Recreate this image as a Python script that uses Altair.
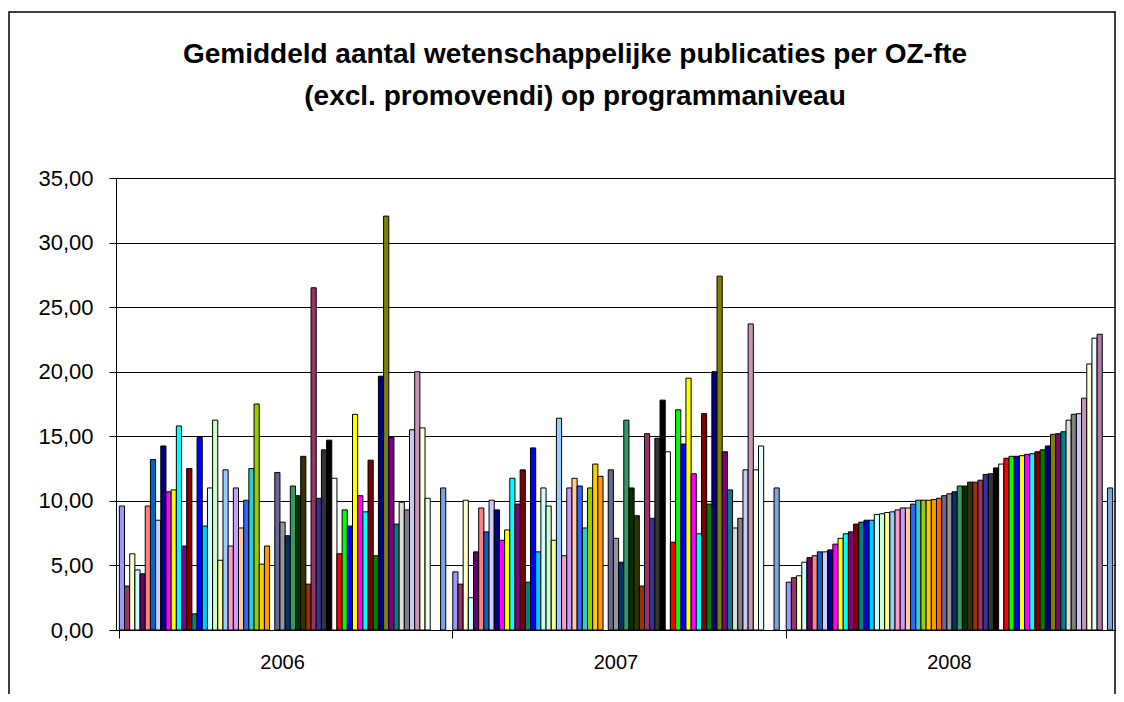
import altair as alt
import pandas as pd

years = ["2006", "2007", "2008"]

series = [f"Programma {i}" for i in range(1, 62)] + ["(leeg)", "Gemiddelde"]

colors = [
    "#9999FF", "#993366", "#FFFFCC", "#CCFFFF", "#660066", "#FF8080", "#0066CC", "#CCCCFF",
    "#000080", "#FF00FF", "#FFFF00", "#00FFFF", "#800080", "#800000", "#008080", "#0000FF",
    "#00CCFF", "#CCFFFF", "#CCFFCC", "#FFFF99", "#99CCFF", "#FF99CC", "#CC99FF", "#FFCC99",
    "#3366FF", "#33CCCC", "#99CC00", "#FFCC00", "#FF9900", "#FF6600", "#666699", "#969696",
    "#003366", "#339966", "#003300", "#333300", "#993300", "#993366", "#333399", "#333333",
    "#000000", "#FFFFFF", "#FF0000", "#00FF00", "#0000FF", "#FFFF00", "#FF00FF", "#00FFFF",
    "#800000", "#008000", "#000080", "#808000", "#800080", "#008080", "#DDDDDD", "#808080",
    "#C8C8F8", "#C896B4", "#FFFFE0", "#E6FFF8", "#B07CB0", "#FFFFFF", "#7AA6DF",
]

v2006 = [
    9.6, 3.4, 5.9, 4.65, 4.35, 9.6, 13.2, 8.5, 14.25, 10.7,
    10.85, 15.8, 6.5, 12.5, 1.25, 14.9, 8.05, 11.0, 16.25, 5.4,
    12.4, 6.5, 11.0, 7.9, 10.05, 12.5, 17.5, 5.1, 6.5, None,
    12.2, 8.35, 7.3, 11.15, 10.4, 13.45, 3.55, 26.5, 10.2, 13.95,
    14.7, 11.75, 5.9, 9.3, 8.05, 16.7, 10.4, 9.15, 13.15, 5.75,
    19.65, 32.05, 14.9, 8.2, 9.9, 9.3, 15.5, 20.0, 15.65, 10.2,
    None, None, 11.0,
]

v2007 = [
    4.5, 3.55, 10.05, 2.5, 6.05, 9.45, 7.6, 10.05, 9.3, 6.95,
    7.75, 11.75, 9.75, 12.4, 3.7, 14.1, 6.05, 11.0, 9.6, 6.95,
    16.4, 5.75, 11.0, 11.75, 11.15, 7.9, 11.0, 12.85, 11.9, None,
    12.4, 7.1, 5.25, 16.25, 11.0, 8.85, 3.4, 15.2, 8.65, 14.85,
    17.8, 13.8, 6.8, 17.05, 14.4, 19.5, 12.1, 7.45, 16.75, 9.75,
    20.0, 27.4, 13.8, 10.85, 7.9, 8.65, 12.4, 23.7, 12.4, 14.25,
    None, None, 11.0,
]

v2008 = [
    3.7, 4.05, 4.2, 5.25, 5.6, 5.75, 6.05, 6.05, 6.2, 6.65,
    7.1, 7.45, 7.6, 8.2, 8.35, 8.5, 8.5, 8.95, 9.0, 9.1,
    9.15, 9.3, 9.45, 9.45, 9.75, 10.05, 10.05, 10.05, 10.1, 10.2,
    10.4, 10.55, 10.7, 11.15, 11.15, 11.45, 11.45, 11.6, 12.05, 12.1,
    12.55, 12.85, 13.3, 13.45, 13.45, 13.5, 13.6, 13.65, 13.8, 13.95,
    14.25, 15.15, 15.2, 15.35, 16.25, 16.7, 16.75, 17.95, 20.6, 22.6,
    22.9, None, 11.0,
]

y_ticks = [0, 5, 10, 15, 20, 25, 30, 35]

rows = []
for year, vals in zip(years, [v2006, v2007, v2008]):
    for name, v in zip(series, vals):
        if v is not None:
            rows.append({"jaar": year, "programma": name, "waarde": v})
df = pd.DataFrame(rows)

FONT = "Liberation Sans"

x_scale = alt.Scale(domain=years, paddingInner=0.021, paddingOuter=0.01)

bars = alt.Chart(df).mark_bar(stroke="black", strokeWidth=1).encode(
    x=alt.X(
        "jaar:N",
        scale=x_scale,
        axis=alt.Axis(
            title=None, labelAngle=0, ticks=False, domain=True, domainColor="black",
            domainWidth=1, labelFontSize=20, labelFont=FONT, labelColor="black",
            labelPadding=22, orient="bottom",
        ),
    ),
    xOffset=alt.XOffset(
        "programma:N",
        scale=alt.Scale(domain=series, paddingInner=0, paddingOuter=0),
    ),
    y=alt.Y(
        "waarde:Q",
        scale=alt.Scale(domain=[0, 35], nice=False),
        axis=alt.Axis(
            title=None, values=y_ticks, grid=True, gridColor="black", gridWidth=1,
            tickColor="black", tickSize=7, domainColor="black",
            labelExpr="replace(format(datum.value, '.2f'), '.', ',')",
            labelFontSize=22, labelFont=FONT, labelColor="black", labelPadding=16,
        ),
    ),
    color=alt.Color(
        "programma:N", scale=alt.Scale(domain=series, range=colors), legend=None
    ),
    tooltip=["jaar", "programma", "waarde"],
)

ticks = alt.Chart(pd.DataFrame({"jaar": years})).mark_rule(opacity=0).encode(
    x=alt.X(
        "jaar:N",
        scale=x_scale,
        axis=alt.Axis(
            title=None, labels=False, ticks=True, tickColor="black", tickSize=8,
            bandPosition=0, domain=False, orient="bottom",
        ),
    ),
    y=alt.value(0),
    y2=alt.value(1),
)

frame = alt.Chart(pd.DataFrame({"f": [0]})).mark_rect(
    filled=False, stroke="black", strokeWidth=1.5
).encode(
    x=alt.value(-107), x2=alt.value(999), y=alt.value(-166), y2=alt.value(540)
)

chart = alt.layer(bars, ticks, frame).resolve_axis(x="independent").properties(
    width=1000,
    height=452,
    autosize=alt.AutoSizeParams(type="none"),
    padding={"left": 108, "top": 170, "right": 0, "bottom": 64},
    title=alt.TitleParams(
        text=[
            "Gemiddeld aantal wetenschappelijke publicaties per OZ-fte",
            "(excl. promovendi) op programmaniveau",
        ],
        font=FONT, fontSize=28, fontWeight="bold", color="black",
        lineHeight=42, anchor="middle", offset=-100, dx=-41,
    ),
).configure_view(
    fill="#C0C0C0", stroke="#808080", strokeWidth=1
).configure(background="white")

chart.save("out.html", embed_options={"renderer": "svg", "actions": False})
